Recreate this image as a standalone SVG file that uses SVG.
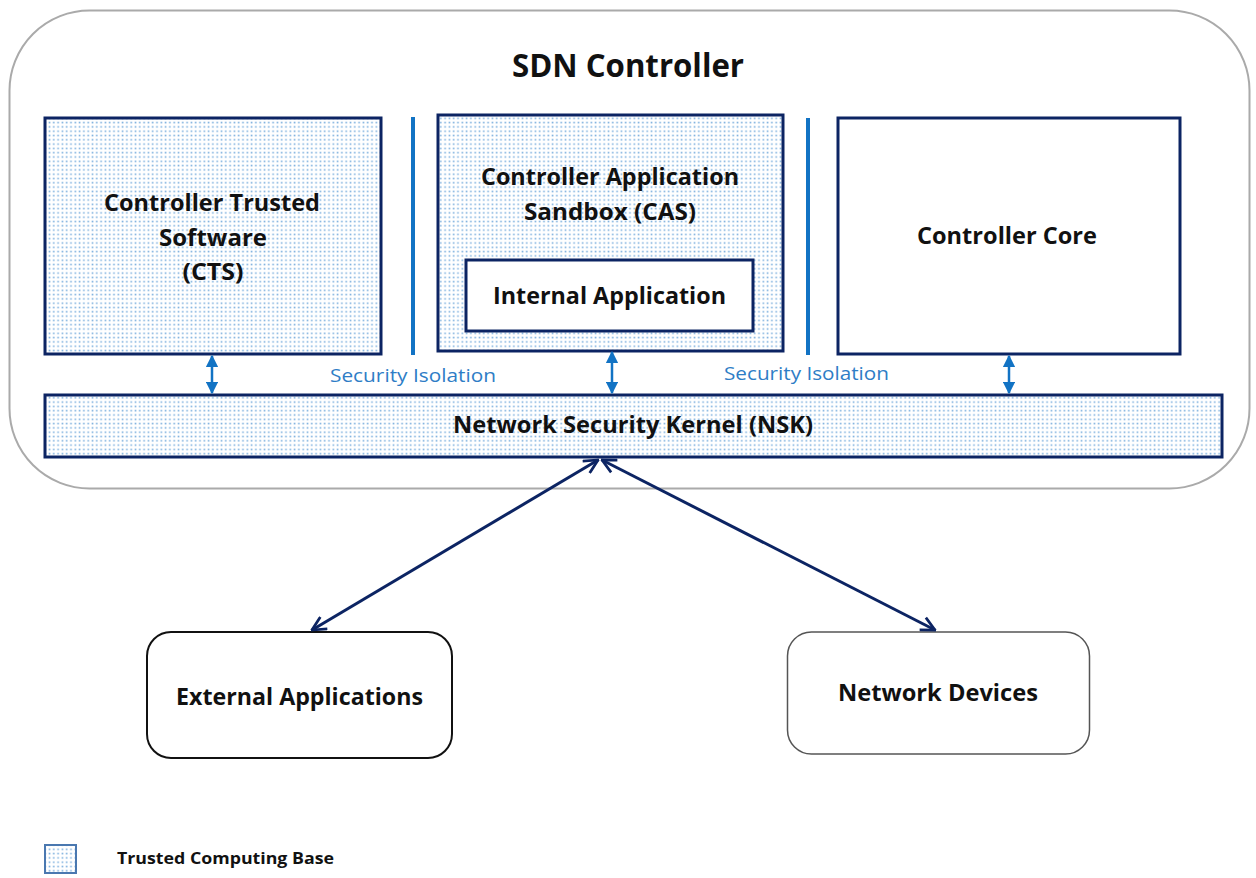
<svg xmlns="http://www.w3.org/2000/svg" width="1256" height="878" viewBox="0 0 1256 878">
  <style>
    .bold { font-family: "Open Sans", "Liberation Sans", sans-serif; font-weight: bold; fill: #111; text-anchor: middle; }
    .iso { font-family: "Open Sans", "Liberation Sans", sans-serif; font-size: 18px; fill: #2e7dc6; text-anchor: middle; }
    .tcb { fill: url(#dots); stroke: #0c2463; stroke-width: 3; }
    .plain { fill: #fff; stroke: #0c2463; stroke-width: 3; }
    .sep { stroke: #1273c4; stroke-width: 4; }
    .iso-arrow { stroke: #1273c4; stroke-width: 2.5; fill: none; marker-start: url(#tri); marker-end: url(#tri); }
    .link { stroke: #0c2463; stroke-width: 3; fill: none; marker-start: url(#vee); marker-end: url(#vee); }
  </style>
  <defs>
    <pattern id="dots" width="4.3" height="4.3" patternUnits="userSpaceOnUse">
      <rect width="4.3" height="4.3" fill="#fff"/>
      <rect x="1.4" y="1.4" width="1.6" height="1.6" fill="#5b9bd5" fill-opacity="0.8"/>
    </pattern>
    <marker id="tri" viewBox="0 0 10 10" refX="9" refY="5" markerWidth="5" markerHeight="5" orient="auto-start-reverse">
      <path d="M0,0 L10,5 L0,10 Z" fill="#1273c4"/>
    </marker>
    <marker id="vee" viewBox="0 0 12 12" refX="11" refY="6" markerWidth="5.5" markerHeight="5.5" orient="auto-start-reverse" markerUnits="strokeWidth">
      <path d="M1,1 L11,6 L1,11" fill="none" stroke="#0c2463" stroke-width="2"/>
    </marker>
  </defs>

  <rect width="1256" height="878" fill="#fff"/>

  <!-- SDN controller boundary -->
  <g id="sdn-controller">
    <rect x="9.5" y="10.5" width="1240" height="478" rx="80" ry="80" fill="#fff" stroke="#aaaaaa" stroke-width="2"/>
    <text class="bold" x="628" y="77" font-size="33" textLength="232" lengthAdjust="spacingAndGlyphs">SDN Controller</text>
  </g>

  <g id="cts">
    <rect class="tcb" x="45" y="118" width="336" height="236"/>
    <text class="bold" x="212" y="211" font-size="23" textLength="216" lengthAdjust="spacingAndGlyphs">Controller Trusted</text>
    <text class="bold" x="213" y="246" font-size="23" textLength="108" lengthAdjust="spacingAndGlyphs">Software</text>
    <text class="bold" x="213" y="280" font-size="23" textLength="61" lengthAdjust="spacingAndGlyphs">(CTS)</text>
  </g>

  <g id="cas">
    <rect class="tcb" x="438" y="115" width="345" height="236"/>
    <text class="bold" x="610" y="185" font-size="23" textLength="258" lengthAdjust="spacingAndGlyphs">Controller Application</text>
    <text class="bold" x="610" y="220" font-size="23" textLength="172" lengthAdjust="spacingAndGlyphs">Sandbox (CAS)</text>
  </g>

  <g id="internal-application">
    <rect class="plain" x="466" y="260" width="287" height="71"/>
    <text class="bold" x="609.5" y="304" font-size="23" textLength="233" lengthAdjust="spacingAndGlyphs">Internal Application</text>
  </g>

  <g id="controller-core">
    <rect class="plain" x="838" y="118" width="342" height="236"/>
    <text class="bold" x="1007" y="244" font-size="23" textLength="180" lengthAdjust="spacingAndGlyphs">Controller Core</text>
  </g>

  <g id="nsk">
    <rect class="tcb" x="45" y="395" width="1177" height="62"/>
    <text class="bold" x="633" y="433" font-size="23" textLength="360" lengthAdjust="spacingAndGlyphs">Network Security Kernel (NSK)</text>
  </g>

  <g id="external-applications">
    <rect x="147" y="632" width="305" height="126" rx="24" ry="24" fill="#fff" stroke="#111" stroke-width="2"/>
    <text class="bold" x="299.5" y="705" font-size="23" textLength="247" lengthAdjust="spacingAndGlyphs">External Applications</text>
  </g>

  <g id="network-devices">
    <rect x="787.5" y="632" width="302" height="122" rx="24" ry="24" fill="#fff" stroke="#555" stroke-width="1.5"/>
    <text class="bold" x="938" y="701" font-size="23" textLength="200" lengthAdjust="spacingAndGlyphs">Network Devices</text>
  </g>

  <!-- isolation separators and labels -->
  <g id="isolation">
    <line class="sep" x1="413" y1="117" x2="413" y2="355"/>
    <line class="sep" x1="808" y1="118" x2="808" y2="355"/>
    <text class="iso" x="413" y="382" textLength="166" lengthAdjust="spacingAndGlyphs">Security Isolation</text>
    <text class="iso" x="806.5" y="380" textLength="165" lengthAdjust="spacingAndGlyphs">Security Isolation</text>
  </g>

  <g id="connectors">
    <line class="iso-arrow" x1="212" y1="356" x2="212" y2="393"/>
    <line class="iso-arrow" x1="612" y1="352" x2="612" y2="393"/>
    <line class="iso-arrow" x1="1009" y1="356" x2="1009" y2="393"/>
    <line class="link" x1="598" y1="460" x2="312" y2="630"/>
    <line class="link" x1="602" y1="460" x2="935" y2="630"/>
  </g>

  <g id="legend">
    <rect x="45" y="845" width="31" height="28" fill="url(#dots)" stroke="#4a78b0" stroke-width="2"/>
    <text x="117" y="864" font-family="Open Sans, Liberation Sans, sans-serif" font-weight="bold" font-size="16" fill="#111" textLength="217" lengthAdjust="spacingAndGlyphs">Trusted Computing Base</text>
  </g>
</svg>
